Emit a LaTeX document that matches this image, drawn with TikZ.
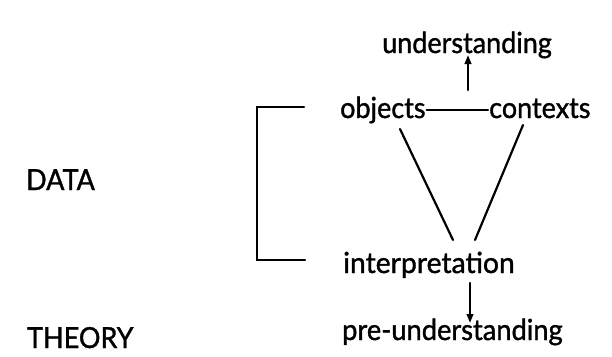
\documentclass[tikz,border=0pt]{standalone}
\usepackage{fontspec}
\setmainfont[FakeStretch=0.93,FakeBold=1.2]{Lato}
\usetikzlibrary{arrows.meta}
\begin{document}
\begin{tikzpicture}[x=1pt,y=-1pt,
  lbl/.style={anchor=base west,inner sep=0pt,font=\fontsize{29}{33}\selectfont},
  ln/.style={line width=2.2pt,line cap=round},
  arr/.style={ln,-{Triangle[length=9pt,width=6.5pt]}}]
\useasboundingbox (0,0) rectangle (612,356);
\fill[white] (0,0) rectangle (612,356);
\node[lbl] (und) at (382,53) {understanding};
\node[lbl] (obj) at (340,118) {objects};
\node[lbl] (ctx) at (489,118) {contexts};
\node[lbl] (int) at (343,273) {\scalebox{1.05}[1]{interpretation}};
\node[lbl] (pre) at (342,340) {\scalebox{1.01}[1]{pre-understanding}};
\node[lbl] (data) at (26,190) {DATA};
\node[lbl] (theory) at (27,348) {THEORY};
\coordinate (bt) at (304,107);
\coordinate (bb) at (305,260);
\draw[ln] (bt) -- (257,107) -- (257,260) -- (bb);
\draw[ln] ([yshift=8pt,xshift=1pt]obj.base east) -- ([yshift=8pt,xshift=-1pt]ctx.base west);
\draw[arr] (468,90) -- (468,55);
\draw[arr] (470,283) -- (470,323);
\draw[ln] (400,129) -- (453,240);
\draw[ln] (523,125) -- (475,240);
\end{tikzpicture}
\end{document}
